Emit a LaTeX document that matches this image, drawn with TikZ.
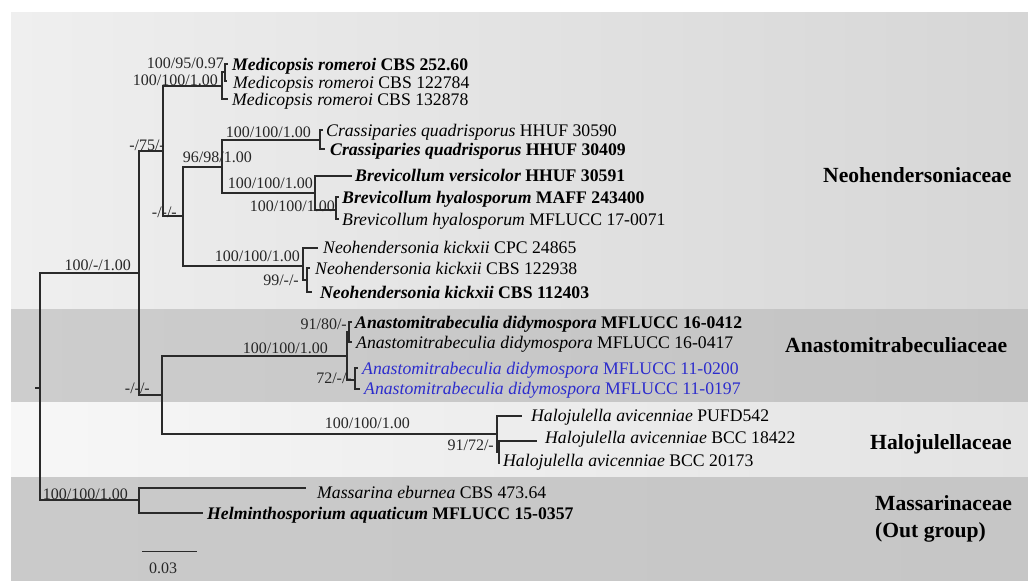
\documentclass[tikz,border=0pt]{standalone}
\usepackage{fontspec}
\setmainfont{Liberation Serif}
\definecolor{linec}{HTML}{2A2A2A}
\definecolor{bluetax}{RGB}{45,45,205}
\definecolor{neoL}{HTML}{EFEFEF}
\definecolor{neoR}{HTML}{D6D6D6}
\definecolor{anaL}{HTML}{CDCDCD}
\definecolor{anaR}{HTML}{C3C3C3}
\definecolor{halL}{HTML}{F7F7F7}
\definecolor{halR}{HTML}{E3E3E3}
\definecolor{masL}{HTML}{CACACA}
\definecolor{masR}{HTML}{C6C6C6}
\begin{document}
\begin{tikzpicture}[x=1pt,y=-1pt,
  br/.style={draw=linec, line width=1.2pt},
  taxon/.style={anchor=west, inner sep=0pt, font=\fontsize{17.7}{20}\selectfont, text height=12pt, text depth=0pt},
  supp/.style={anchor=east, inner sep=0pt, font=\fontsize{16}{18}\selectfont, text height=10.6pt, text depth=0pt, text=black!85},
  fam/.style={anchor=west, inner sep=0pt, font=\bfseries\fontsize{21.6}{24}\selectfont, text height=14.3pt, text depth=0pt}]
\useasboundingbox (0,0) rectangle (1028,581);
% background bands
\fill[white] (0,0) rectangle (1028,581);
\shade[left color=neoL, right color=neoR] (11,12) rectangle (1028,309);
\shade[left color=anaL, right color=anaR] (11,309) rectangle (1028,402);
\shade[left color=halL, right color=halR] (11,402) rectangle (1028,477);
\shade[left color=masL, right color=masR] (11,477) rectangle (1028,580);

% internal nodes
\coordinate (Rt) at (35,388);
\coordinate (R) at (40,388);
\coordinate (A) at (139,273);
\coordinate (B) at (163,151);
\coordinate (C) at (162,395);
\coordinate (Med) at (222,86);
\coordinate (Med1) at (225,72);
\coordinate (D) at (183,216);
\coordinate (E) at (222,167);
\coordinate (Cr) at (320,140);
\coordinate (Br) at (315,193);
\coordinate (Bh) at (336,210);
\coordinate (N) at (303,266);
\coordinate (N99) at (307,280);
\coordinate (An) at (347,356);
\coordinate (An1) at (349,332);
\coordinate (An2) at (355,380);
\coordinate (H) at (497,434);
\coordinate (H2) at (499,452);
\coordinate (Ms) at (139,500);
% tips
\coordinate (tm1) at (228,64);
\coordinate (tm2) at (227,81);
\coordinate (tm3) at (228,99);
\coordinate (tc1) at (323,130);
\coordinate (tc2) at (325,149);
\coordinate (tbv) at (352,176);
\coordinate (tbh1) at (339,197);
\coordinate (tbh2) at (339,219);
\coordinate (tn1) at (318,248);
\coordinate (tn2) at (310,268);
\coordinate (tn3) at (312,292);
\coordinate (ta1) at (352,322);
\coordinate (ta2) at (352,342);
\coordinate (ta3) at (358,368);
\coordinate (ta4) at (360,389);
\coordinate (th1) at (522,416);
\coordinate (th2) at (537,441);
\coordinate (th3) at (500,463);
\coordinate (tms1) at (306,488);
\coordinate (tms2) at (203,513);

% branches
\draw[br] (Rt) -- (R);
\draw[br] (R) |- (A);
\draw[br] (R) |- (Ms);
\draw[br] (A) |- (B);
\draw[br] (A) |- (C);
\draw[br] (B) |- (Med);
\draw[br] (B) |- (D);
\draw[br] (Med) |- (Med1);
\draw[br] (Med) |- (tm3);
\draw[br] (Med1) |- (tm1);
\draw[br] (Med1) |- (tm2);
\draw[br] (D) |- (E);
\draw[br] (D) |- (N);
\draw[br] (E) |- (Cr);
\draw[br] (E) |- (Br);
\draw[br] (Cr) |- (tc1);
\draw[br] (Cr) |- (tc2);
\draw[br] (Br) |- (tbv);
\draw[br] (Br) |- (Bh);
\draw[br] (Bh) |- (tbh1);
\draw[br] (Bh) |- (tbh2);
\draw[br] (N) |- (tn1);
\draw[br] (N) |- (N99);
\draw[br] (N99) |- (tn2);
\draw[br] (N99) |- (tn3);
\draw[br] (C) |- (An);
\draw[br] (C) |- (H);
\draw[br] (An) |- (An1);
\draw[br] (An) |- (An2);
\draw[br] (An1) |- (ta1);
\draw[br] (An1) |- (ta2);
\draw[br] (An2) |- (ta3);
\draw[br] (An2) |- (ta4);
\draw[br] (H) |- (th1);
\draw[br] (H) |- (H2);
\draw[br] (H2) |- (th2);
\draw[br] (H2) |- (th3);
\draw[br] (Ms) |- (tms1);
\draw[br] (Ms) |- (tms2);

% taxa
\node[taxon] (Tm1) at (232,64) {\bfseries\textit{Medicopsis romeroi} CBS 252.60};
\node[taxon] (Tm2) at (233,82) {\textit{Medicopsis romeroi} CBS 122784};
\node[taxon] (Tm3) at (232,99) {\textit{Medicopsis romeroi} CBS 132878};
\node[taxon] (Tc1) at (326,130) {\textit{Crassiparies quadrisporus} HHUF 30590};
\node[taxon] (Tc2) at (330,149) {\bfseries\textit{Crassiparies quadrisporus} HHUF 30409};
\node[taxon] (Tbv) at (355,175) {\bfseries\textit{Brevicollum versicolor} HHUF 30591};
\node[taxon] (Tbh1) at (342,197) {\bfseries\textit{Brevicollum hyalosporum} MAFF 243400};
\node[taxon] (Tbh2) at (342,219) {\textit{Brevicollum hyalosporum} MFLUCC 17-0071};
\node[taxon] (Tn1) at (323,247) {\textit{Neohendersonia kickxii} CPC 24865};
\node[taxon] (Tn2) at (315,268) {\textit{Neohendersonia kickxii} CBS 122938};
\node[taxon] (Tn3) at (320,292) {\bfseries\textit{Neohendersonia kickxii} CBS 112403};
\node[taxon] (Ta1) at (355,322) {\bfseries\textit{Anastomitrabeculia didymospora} MFLUCC 16-0412};
\node[taxon] (Ta2) at (356,342) {\textit{Anastomitrabeculia didymospora} MFLUCC 16-0417};
\node[taxon, text=bluetax] (Ta3) at (362,368) {\textit{Anastomitrabeculia didymospora} MFLUCC 11-0200};
\node[taxon, text=bluetax] (Ta4) at (364,388) {\textit{Anastomitrabeculia didymospora} MFLUCC 11-0197};
\node[taxon] (Th1) at (531,415) {\textit{Halojulella avicenniae} PUFD542};
\node[taxon] (Th2) at (545,437) {\textit{Halojulella avicenniae} BCC 18422};
\node[taxon] (Th3) at (503,460) {\textit{Halojulella avicenniae} BCC 20173};
\node[taxon] (Tms1) at (317,492) {\textit{Massarina eburnea} CBS 473.64};
\node[taxon] (Tms2) at (207,513) {\bfseries\textit{Helminthosporium aquaticum} MFLUCC 15-0357};

% support values
\node[supp] (s1) at (224,63) {100/95/0.97};
\node[supp] (s2) at (218,80) {100/100/1.00};
\node[supp] (s3) at (165,145) {-/75/-};
\node[supp] (s4) at (311,132) {100/100/1.00};
\node[supp] (s5) at (252,157) {96/98/1.00};
\node[supp] (s6) at (313,183) {100/100/1.00};
\node[supp] (s7) at (335,206) {100/100/1.00};
\node[supp] (s8) at (177,212) {-/-/-};
\node[supp] (s9) at (300,256) {100/100/1.00};
\node[supp] (s10) at (299,280) {99/-/-};
\node[supp] (s11) at (347,324) {91/80/-};
\node[supp] (s12) at (328,348) {100/100/1.00};
\node[supp] (s13) at (352,378) {72/-/-};
\node[supp] (s14) at (150,388) {-/-/-};
\node[supp] (s15) at (410,423) {100/100/1.00};
\node[supp] (s16) at (494,445) {91/72/-};
\node[supp] (s17) at (131,265) {100/-/1.00};
\node[supp] (s18) at (128,494) {100/100/1.00};

% families
\node[fam] (f1) at (823,175) {Neohendersoniaceae};
\node[fam] (f2) at (785,345) {Anastomitrabeculiaceae};
\node[fam] (f3) at (870,442) {Halojulellaceae};
\node[fam] (f4) at (875,503) {Massarinaceae};
\node[fam] (f5) at (875,530) {(Out group)};

% scale bar
\coordinate (sb1) at (142,551);
\coordinate (sb2) at (197,551);
\draw[br, line width=1pt] (sb1) -- (sb2);
\node[supp, anchor=center] (sbl) at (163,568) {0.03};
\end{tikzpicture}
\end{document}
